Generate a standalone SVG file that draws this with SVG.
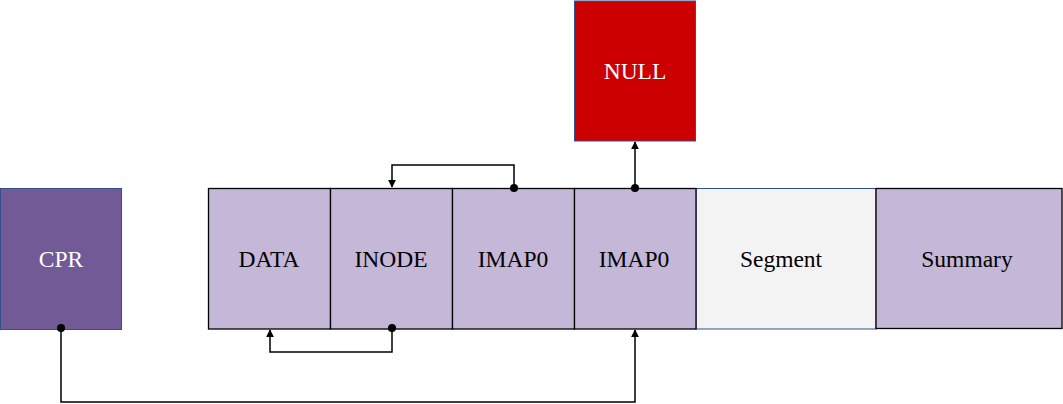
<svg xmlns="http://www.w3.org/2000/svg" width="1063" height="404" viewBox="0 0 1063 404">
<style>
text{font-family:"Liberation Serif","Times New Roman",serif;font-size:23.5px;text-anchor:middle;dominant-baseline:central}
.cell{fill:#c5b7d8;stroke:#000;stroke-width:1.3}
.w{fill:#fff}
.k{fill:#000}
.c{fill:none;stroke:#000;stroke-width:1.5}
</style>
<defs>
<marker id="arr" viewBox="0 0 10 10" refX="9" refY="5" markerWidth="8" markerHeight="9" markerUnits="userSpaceOnUse" orient="auto"><path d="M0,0 L10,5 L0,10 z" fill="#000"/></marker>
<marker id="dot" viewBox="0 0 10 10" refX="5" refY="5" markerWidth="9" markerHeight="9" markerUnits="userSpaceOnUse"><circle cx="5" cy="5" r="4.5" fill="#000"/></marker>
</defs>
<g id="cpr"><rect x="0.5" y="188.5" width="121" height="141" fill="#715a96" stroke="#2f528f"/><text class="w" x="61" y="259">CPR</text></g>
<g id="null"><rect x="574.5" y="1" width="121" height="140" fill="#cc0000" stroke="#2f528f"/><text class="w" x="635" y="71">NULL</text></g>
<g id="segment"><rect x="696" y="188.5" width="180" height="140.5" fill="#f3f3f3" stroke="#2f528f"/><text class="k" x="781" y="259">Segment</text></g>
<g id="data"><rect class="cell" x="208.5" y="188.5" width="122" height="140.5"/><text class="k" x="269" y="259">DATA</text></g>
<g id="inode"><rect class="cell" x="330.5" y="188.5" width="122" height="140.5"/><text class="k" x="391" y="259">INODE</text></g>
<g id="imap0a"><rect class="cell" x="452.5" y="188.5" width="122" height="140.5"/><text class="k" x="513" y="259">IMAP0</text></g>
<g id="imap0b"><rect class="cell" x="574.5" y="188.5" width="121.5" height="140.5"/><text class="k" x="634" y="259">IMAP0</text></g>
<g id="summary"><rect class="cell" x="876" y="188.5" width="186" height="140"/><text class="k" x="967" y="259">Summary</text></g>
<g id="connectors">
<path class="c" d="M514,188 V165 H392 V187" marker-start="url(#dot)" marker-end="url(#arr)"/>
<path class="c" d="M392,328 V352 H270 V330" marker-start="url(#dot)" marker-end="url(#arr)"/>
<path class="c" d="M635,188 V142" marker-start="url(#dot)" marker-end="url(#arr)"/>
<path class="c" d="M61,328 V402 H635 V330" marker-start="url(#dot)" marker-end="url(#arr)"/>
</g>
</svg>
